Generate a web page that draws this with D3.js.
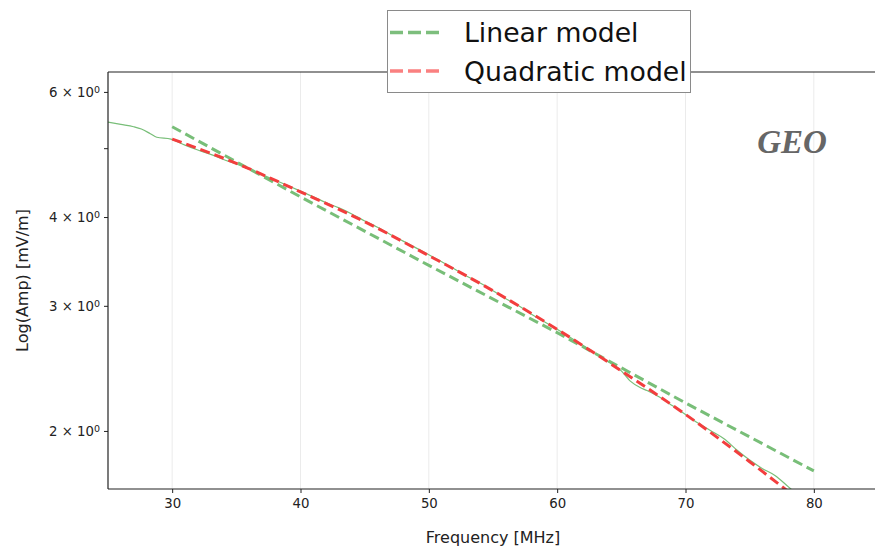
<!DOCTYPE html>
<html><head><meta charset="utf-8">
<script src="https://cdn.jsdelivr.net/npm/d3@7"></script>
<style>body{margin:0;background:#fff}svg{display:block}</style>
</head><body>
<svg id="chart" width="875" height="549"></svg>
<script>
// ---- data ----
const freqTicks = [30, 40, 50, 60, 70, 80];
const ampTicks = [2, 3, 4, 5, 6];
const ampTickMantissa = ["2", "3", "4", "", "6"];
const dataFreq = [25, 26, 27, 27.6, 28.3, 28.8, 29.9, 31, 32, 33, 34, 35, 36, 37, 38, 39, 40, 41, 42, 43, 44, 45, 46, 47, 48, 49, 50, 51, 52, 53, 54, 55, 56, 57, 58, 59, 60, 61, 62, 63, 64, 65, 65.7, 66.5, 67, 68, 69, 70, 71, 72, 73, 74, 75, 76, 77, 78, 79];
const dataAmp = [5.44, 5.40, 5.36, 5.32, 5.24, 5.18, 5.15, 5.05, 4.97, 4.90, 4.82, 4.75, 4.67, 4.59, 4.51, 4.43, 4.35, 4.27, 4.19, 4.12, 4.04, 3.95, 3.87, 3.78, 3.70, 3.62, 3.54, 3.46, 3.38, 3.30, 3.23, 3.15, 3.07, 3.00, 2.92, 2.85, 2.78, 2.71, 2.64, 2.57, 2.50, 2.43, 2.35, 2.30, 2.28, 2.23, 2.17, 2.11, 2.05, 2.00, 1.95, 1.88, 1.82, 1.77, 1.73, 1.67, 1.61];
const linFreq = [30, 40, 50, 60, 70, 80];
const linAmp = [5.36, 4.27, 3.42, 2.75, 2.19, 1.757];
const quadFreq = [30, 35, 40, 45, 50, 55, 60, 65, 70, 75, 80];
const quadAmp = [5.15, 4.76, 4.34, 3.94, 3.53, 3.15, 2.78, 2.43, 2.11, 1.81, 1.54];
const legendLabels = ["Linear model", "Quadratic model"];
const annotation = "GEO";
const xLabel = "Frequency [MHz]";
const yLabel = "Log(Amp) [mV/m]";

// ---- layout ----
const svg = d3.select("#chart");
const L = 108, R = 878, T = 72, B = 489;
const x = d3.scaleLinear().domain([25, 85]).range([L, R]);
const y = d3.scaleLog().domain([1.657, 6.40]).range([B, T]);
const font = "DejaVu Sans, sans-serif";

svg.append("defs").append("clipPath").attr("id", "clip")
  .append("rect").attr("x", L).attr("y", T).attr("width", R - L).attr("height", B - T);

// grid
svg.append("g").selectAll("line").data(freqTicks).join("line")
  .attr("x1", d => x(d)).attr("x2", d => x(d)).attr("y1", T).attr("y2", B)
  .attr("stroke", "#ebebeb").attr("stroke-width", 1);

const plot = svg.append("g").attr("clip-path", "url(#clip)");
const line = (fx, fy) => d3.line().x((d, i) => x(fx[i])).y((d, i) => y(fy[i]));

plot.append("path").datum(dataAmp)
  .attr("d", line(dataFreq, dataAmp).curve(d3.curveMonotoneX))
  .attr("fill", "none").attr("stroke", "rgb(120,190,120)").attr("stroke-width", 1.2);

plot.append("path").datum(linAmp)
  .attr("d", line(linFreq, linAmp))
  .attr("fill", "none").attr("stroke", "rgb(120,190,120)").attr("stroke-width", 3)
  .attr("stroke-dasharray", "10,5");

plot.append("path").datum(quadAmp)
  .attr("d", line(quadFreq, quadAmp).curve(d3.curveMonotoneX))
  .attr("fill", "none").attr("stroke", "rgb(243,62,62)").attr("stroke-width", 3)
  .attr("stroke-dasharray", "10,5");

// axes
const xAxis = svg.append("g").attr("transform", `translate(0,${B})`)
  .call(d3.axisBottom(x).tickValues(freqTicks).tickSize(4).tickPadding(6));
xAxis.select(".domain").remove();
xAxis.selectAll("text").attr("font-family", font).attr("font-size", 13.3).attr("fill", "#222");
xAxis.selectAll(".tick line").attr("stroke", "#222");

const yAxis = svg.append("g").attr("transform", `translate(${L},0)`)
  .call(d3.axisLeft(y).tickValues(ampTicks).tickSize(4).tickFormat(""));
yAxis.select(".domain").remove();
yAxis.selectAll(".tick line").attr("stroke", "#222");
yAxis.selectAll(".tick").each(function(d, i) {
  const m = ampTickMantissa[i];
  if (!m) return;
  const t = d3.select(this).append("text")
    .attr("x", -8).attr("y", 0).attr("dy", "0.36em")
    .attr("text-anchor", "end").attr("font-family", font)
    .attr("font-size", 13.3).attr("fill", "#222");
  t.append("tspan").text(m + " \u00d7 10");
  t.append("tspan").attr("dy", "-0.45em").attr("font-size", 9.5).text("0");
});

// spines
svg.append("line").attr("x1", L).attr("x2", L).attr("y1", T).attr("y2", B).attr("stroke", "#222").attr("stroke-width", 1.2);
svg.append("line").attr("x1", L).attr("x2", R).attr("y1", B).attr("y2", B).attr("stroke", "#222").attr("stroke-width", 1.2);
svg.append("line").attr("x1", L).attr("x2", R).attr("y1", T).attr("y2", T).attr("stroke", "#222").attr("stroke-width", 1.2);

// labels
svg.append("text").attr("x", 493).attr("y", 543)
  .attr("text-anchor", "middle").attr("font-family", font).attr("font-size", 16).attr("fill", "#222")
  .text(xLabel);
svg.append("text").attr("transform", "translate(28,280.5) rotate(-90)")
  .attr("text-anchor", "middle").attr("font-family", font).attr("font-size", 16).attr("fill", "#222")
  .text(yLabel);

// annotation
svg.append("text").attr("x", 792).attr("y", 152.5).attr("text-anchor", "middle")
  .attr("font-family", "Liberation Serif, Times New Roman, serif").attr("font-style", "italic").attr("font-weight", "bold")
  .attr("font-size", 33).attr("fill", "#666")
  .text(annotation);

// legend
const lg = svg.append("g");
lg.append("rect").attr("x", 387.5).attr("y", 10.5).attr("width", 303).attr("height", 82)
  .attr("fill", "#fff").attr("stroke", "#8a8a8a").attr("stroke-width", 1);
const legColors = ["rgb(125,190,125)", "rgb(250,128,128)"];
legendLabels.forEach((lab, i) => {
  const yy = 32.5 + i * 38.5;
  lg.append("line").attr("x1", 390).attr("x2", 444).attr("y1", yy).attr("y2", yy)
    .attr("stroke", legColors[i]).attr("stroke-width", 3.5).attr("stroke-dasharray", "13,5");
  lg.append("text").attr("x", 464).attr("y", yy + 9.7).attr("font-family", font)
    .attr("font-size", 26.7).attr("fill", "#111").text(lab);
});
</script>
</body></html>
